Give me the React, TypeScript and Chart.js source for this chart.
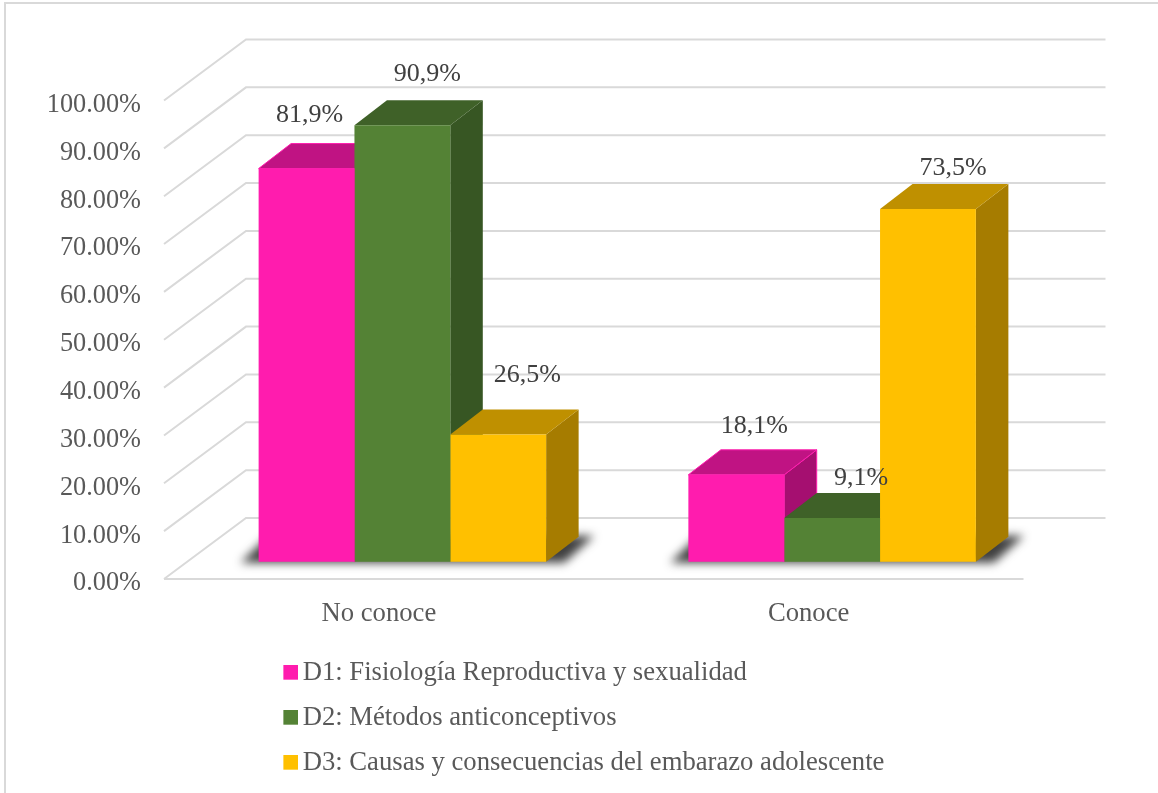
import React, { useEffect, useRef } from "react";
import { Chart, registerables } from "chart.js";

Chart.register(...registerables);

const categories = ["No conoce", "Conoce"];
const seriesNames = [
  "D1: Fisiología Reproductiva y sexualidad",
  "D2: Métodos anticonceptivos",
  "D3: Causas y consecuencias del embarazo adolescente",
];
const d1Values = [81.9, 18.1];
const d2Values = [90.9, 9.1];
const d3Values = [26.5, 73.5];
const frontColors = ["#FF1CAE", "#548235", "#FFC000"];
const topColors = ["#C01383", "#3F6128", "#BF9000"];
const sideColors = ["#A50F70", "#375623", "#A67C00"];
// Label nudges from the top-centre of each bar, [series][category]
const labelNudges = [
  [[3, -53], [18, -49]],
  [[25, -51], [29, -40]],
  [[29, -59], [25, -41]],
];

const FONT = "'Liberation Serif'";
const FLOOR_DX = 82;
const FLOOR_DY = 61;
const BAR_DX = 32.5;
const BAR_DY = 25;
const BAR_SHIFT_X = 23.5;

function makeSwatch(color: string) {
  const c = document.createElement("canvas");
  c.width = 19;
  c.height = 16;
  const g = c.getContext("2d")!;
  g.fillStyle = color;
  g.fillRect(4, 0, 15, 15);
  return c;
}

const wall3d = {
  id: "wall3d",
  afterLayout(chart: any) {
    const l = chart.legend;
    if (!l) return;
    l.left = 270;
    l.right = 910;
    l.top = 641;
  },
  beforeDatasetsDraw(chart: any) {
    const { ctx, chartArea, scales } = chart;
    const y = scales.y;
    ctx.save();
    // Outer frame
    ctx.strokeStyle = "#D9D9D9";
    ctx.lineWidth = 2;
    ctx.strokeRect(5, 3, 1400, 1000);
    // Walls and floor
    ctx.lineWidth = 2;
    ctx.beginPath();
    for (const t of y.ticks) {
      const py = y.getPixelForValue(t.value);
      ctx.moveTo(chartArea.left, py);
      ctx.lineTo(chartArea.left + FLOOR_DX, py - FLOOR_DY);
      ctx.lineTo(chartArea.right + FLOOR_DX, py - FLOOR_DY);
    }
    const floor = y.getPixelForValue(0);
    ctx.moveTo(chartArea.left, floor);
    ctx.lineTo(chartArea.right, floor);
    ctx.stroke();
    // Cast shadows on the floor
    const first = chart.getDatasetMeta(0).data;
    const last = chart.getDatasetMeta(2).data;
    ctx.save();
    ctx.filter = "blur(5px)";
    ctx.fillStyle = "rgba(30,30,30,0.85)";
    first.forEach((bar: any, i: number) => {
      const left = bar.x - bar.width / 2 + BAR_SHIFT_X;
      const right = last[i].x + last[i].width / 2 + BAR_SHIFT_X;
      const base = bar.base;
      ctx.beginPath();
      ctx.moveTo(left - 18, base + 1);
      ctx.lineTo(right + 18, base + 1);
      ctx.lineTo(right + 48, base - 26);
      ctx.lineTo(left + 10, base - 26);
      ctx.closePath();
      ctx.fill();
    });
    ctx.restore();
    // Side and top faces, painted left to right; fronts are native bars on top
    ctx.translate(BAR_SHIFT_X, 0);
    ctx.lineWidth = 1;
    chart.data.datasets.forEach((_: any, i: number) => {
      chart.getDatasetMeta(i).data.forEach((bar: any) => {
        const l = bar.x - bar.width / 2;
        const r = bar.x + bar.width / 2;
        const t = bar.y;
        const b = bar.base;
        ctx.strokeStyle = frontColors[i];
        ctx.fillStyle = sideColors[i];
        ctx.beginPath();
        ctx.moveTo(r, t);
        ctx.lineTo(r + BAR_DX, t - BAR_DY);
        ctx.lineTo(r + BAR_DX, b - BAR_DY);
        ctx.lineTo(r, b);
        ctx.closePath();
        ctx.fill();
        if (i === 0) ctx.stroke();
        ctx.fillStyle = topColors[i];
        ctx.beginPath();
        ctx.moveTo(l, t);
        ctx.lineTo(l + BAR_DX, t - BAR_DY);
        ctx.lineTo(r + BAR_DX, t - BAR_DY);
        ctx.lineTo(r, t);
        ctx.closePath();
        ctx.fill();
        if (i === 0) ctx.stroke();
      });
    });
    ctx.restore();
  },
  beforeDatasetDraw(chart: any) {
    chart.ctx.save();
    chart.ctx.translate(BAR_SHIFT_X, 0);
  },
  afterDatasetDraw(chart: any) {
    chart.ctx.restore();
  },
  afterDatasetsDraw(chart: any) {
    const { ctx, data } = chart;
    ctx.save();
    ctx.font = `26px ${FONT}`;
    ctx.fillStyle = "#404040";
    ctx.textAlign = "center";
    ctx.textBaseline = "middle";
    data.datasets.forEach((ds: any, i: number) => {
      chart.getDatasetMeta(i).data.forEach((bar: any, j: number) => {
        const text = ds.data[j].toFixed(1).replace(".", ",") + "%";
        const [nx, ny] = labelNudges[i][j];
        ctx.fillText(text, bar.x + BAR_SHIFT_X + nx, bar.y + ny);
      });
    });
    ctx.restore();
  },
};

export default function App() {
  const ref = useRef<HTMLCanvasElement>(null);
  useEffect(() => {
    document.body.style.margin = "0";
    const values = [d1Values, d2Values, d3Values];
    const chart = new Chart(ref.current!, {
      type: "bar",
      data: {
        labels: categories,
        datasets: seriesNames.map((label, i) => ({
          label,
          data: values[i],
          backgroundColor: frontColors[i],
          yAxisID: "bars",
          clip: false as any,
          barPercentage: 1,
          categoryPercentage: 0.669,
        })),
      },
      options: {
        animation: false,
        responsive: false,
        layout: { padding: { left: 0, right: 134.5, top: 100.5, bottom: 0 } },
        scales: {
          x: {
            grid: { display: false, drawTicks: false },
            border: { display: false },
            ticks: { font: { family: FONT, size: 26.67 }, color: "#595959", padding: 19 },
            afterFit(s: any) {
              s.height = 114;
            },
          },
          y: {
            min: 0,
            max: 100,
            grid: { display: false, drawTicks: false },
            border: { display: false },
            ticks: {
              stepSize: 10,
              padding: 23,
              labelOffset: 4.5,
              font: { family: FONT, size: 26.3 },
              color: "#595959",
              callback: (v: any) => Number(v).toFixed(2) + "%",
            },
            afterFit(s: any) {
              s.width = 164;
            },
          },
          bars: { display: false, min: -3.604, max: 96.08 },
        },
        plugins: {
          tooltip: { enabled: false },
          legend: {
            position: "bottom",
            align: "start",
            maxWidth: 640,
            labels: {
              usePointStyle: true,
              boxWidth: 1,
              boxHeight: 15,
              padding: 18.33,
              color: "#595959",
              font: { family: FONT, size: 26.67 },
              generateLabels(c: any) {
                const items = Chart.defaults.plugins.legend.labels.generateLabels(c);
                items.forEach((it: any, i: number) => {
                  it.pointStyle = makeSwatch(frontColors[i]);
                });
                return items;
              },
            },
          },
        },
      } as any,
      plugins: [wall3d as any],
    });
    return () => chart.destroy();
  }, []);
  return <canvas ref={ref} width={1158} height={793} style={{ display: "block" }} />;
}
